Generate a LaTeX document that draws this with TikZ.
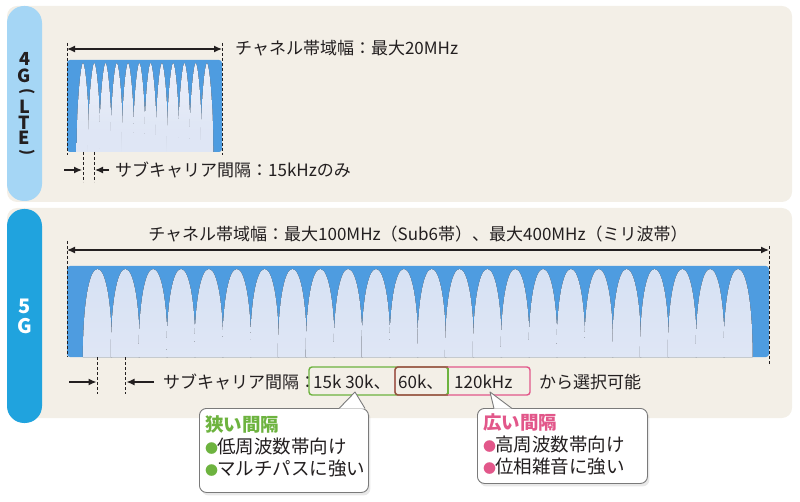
\documentclass[tikz,border=0pt]{standalone}
\usepackage{fontspec}
\setmainfont{Noto Sans CJK JP}
\usetikzlibrary{arrows.meta,shadows,calc,fadings}
\definecolor{beige}{HTML}{F3EFE7}
\definecolor{tabfour}{HTML}{A5D6F5}
\definecolor{tabfive}{HTML}{20A3DE}
\definecolor{specdark}{HTML}{4E9CE0}
\definecolor{speclight}{HTML}{DFE6F5}
\definecolor{peaktip}{HTML}{E9EEF9}
\definecolor{grn}{HTML}{6DB33F}
\definecolor{pnk}{HTML}{E2578A}
\definecolor{brn}{HTML}{8C5B3B}
\definecolor{txt}{HTML}{231F20}
\definecolor{cbord}{HTML}{7A7A7A}
\begin{document}
\begin{tikzpicture}[x=1pt,y=-1pt,
  lbl/.style={font=\fontsize{17}{20}\selectfont, text=txt, inner sep=0pt},
  tabtxt/.style={font=\fontsize{20}{20}\selectfont\bfseries, inner sep=0pt, text height=14pt, text depth=0pt},
  tabsmall/.style={font=\fontsize{18}{18}\selectfont\bfseries, inner sep=0pt, text height=12.5pt, text depth=0pt},
  tabparen/.style={font=\fontsize{15}{15}\selectfont\bfseries, inner sep=0pt, rotate=-90, text height=5pt, text depth=0pt},
  dimline/.style={line width=1.3pt, txt, {Latex[length=8pt,width=7pt]}-{Latex[length=8pt,width=7pt]}},
  onearrow/.style={line width=1.3pt, txt, -{Latex[length=8pt,width=7pt]}},
  guide/.style={densely dashed, line width=0.7pt, txt},
  panel/.style={fill=beige, rounded corners=10pt},
  callout/.style={draw=cbord, line width=0.9pt, fill=white, rounded corners=7pt, inner sep=0pt},
  ctext/.style={font=\fontsize{18.5}{22}\selectfont, text=txt, inner sep=0pt, anchor=north west, align=left},
  selbox/.style={line width=1.4pt, rounded corners=3pt}
]
\useasboundingbox (0,0) rectangle (800,502);
% panels
\fill[panel] (7,6) rectangle (792,202);
\fill[panel] (7,208) rectangle (792,418);
\fill[tabfour, rounded corners=17pt] (7,6) rectangle (42,201);
\fill[tabfive, rounded corners=17pt] (7,209) rectangle (42,423);
% 4G (LTE) vertical label
\node[tabsmall, text=txt] (t4a) at (24.5,59.5) {4};
\node[tabsmall, text=txt] (t4b) at (24.5,76.5) {G};
\node[tabparen, text=txt] (t4c) at (24.5,92) {(};
\node[tabsmall, text=txt] (t4d) at (24.5,107.5) {L};
\node[tabsmall, text=txt] (t4e) at (24.5,123) {T};
\node[tabsmall, text=txt] (t4f) at (24.5,138.5) {E};
\node[tabparen, text=txt] (t4g) at (24.5,153) {)};
% 5G label
\node[tabtxt, text=white] (t5a) at (24.5,307) {5};
\node[tabtxt, text=white] (t5b) at (24.5,327) {G};

% ---------- 4G spectrum ----------
\fill[specdark, rounded corners=3pt] (67,60) rectangle (222,152);
\foreach \i in {0,...,11}{
  \pgfmathsetmacro\c{83+11.27*\i}
  \fill[top color=peaktip, bottom color=speclight]
    (\c-6.3,152) .. controls (\c-6.3,100) and (\c-2,63) .. (\c,63)
    .. controls (\c+2,63) and (\c+6.3,100) .. (\c+6.3,152) -- cycle;
}
\fill[speclight, path fading=north] (77,105) rectangle (213,152);
\coordinate (a4l) at (67,49);
\coordinate (a4r) at (222,49);
\draw[guide] (67,43) -- (67,155);
\draw[guide] (222,43) -- (222,155);
\draw[dimline] (a4l) -- (a4r);
\node[lbl, anchor=west] (bw4) at (235,48) {チャネル帯域幅：最大20MHz};
\draw[guide] (83,152) -- (83,182);
\draw[guide] (94,152) -- (94,182);
\coordinate (s4a) at (64,170);
\coordinate (s4b) at (82,170);
\coordinate (s4c) at (109,170);
\coordinate (s4d) at (95,170);
\draw[onearrow] (s4a) -- (s4b);
\draw[onearrow] (s4c) -- (s4d);
\node[lbl, anchor=west] (sc4) at (115,170) {サブキャリア間隔：15kHzのみ};

% ---------- 5G spectrum ----------
\fill[specdark, rounded corners=3pt] (67,266) rectangle (769,357);
\foreach \i in {0,...,23}{
  \pgfmathsetmacro\c{97.5+27.85*\i}
  \fill[top color=speclight!94!specdark, bottom color=speclight]
    (\c-14.6,357) .. controls (\c-14.6,305) and (\c-8.5,269) .. (\c,269)
    .. controls (\c+8.5,269) and (\c+14.6,305) .. (\c+14.6,357) -- cycle;
}
\coordinate (a5l) at (67,250);
\coordinate (a5r) at (769,250);
\draw[guide] (67,241) -- (67,357);
\draw[guide] (769,246) -- (769,364);
\draw[dimline] (a5l) -- (a5r);
\node[lbl] (bw5) at (418,234) {チャネル帯域幅：最大100MHz（Sub6帯）、最大400MHz（ミリ波帯）};
\draw[guide] (97.5,357) -- (97.5,394);
\draw[guide] (125.5,357) -- (125.5,394);
\coordinate (s5a) at (69,382);
\coordinate (s5b) at (96.5,382);
\coordinate (s5c) at (154,382);
\coordinate (s5d) at (126.5,382);
\draw[onearrow] (s5a) -- (s5b);
\draw[onearrow] (s5c) -- (s5d);
\node[lbl, anchor=west] (sc5) at (163,382) {サブキャリア間隔：};
\node[lbl, anchor=west] (v1) at (313,382) {15k 30k、};
\node[lbl, anchor=west] (v2) at (398,382) {60k、};
\node[lbl, anchor=west] (v3) at (454,382) {120kHz};
\node[lbl, anchor=west] (v4) at (539,382) {から選択可能};
\draw[selbox, grn] (309,367) rectangle (448,395);
\draw[selbox, pnk] (395,367) rectangle (530,395);
\draw[selbox, brn] (448,367) -- (395,367) -- (395,395) -- (448,395);
\draw[line width=1.4pt, grn] (448,368) -- (448,394);

% ---------- callouts ----------
\node[callout, drop shadow={opacity=0.18, shadow xshift=2pt, shadow yshift=-3pt},
      minimum width=169pt, minimum height=84pt, anchor=north west] (cbL) at (199,408) {};
\coordinate (tLa) at (339,408.5);
\coordinate (tLt) at (355,392);
\coordinate (tLb) at (365,408.5);
\fill[white] (tLa) -- (tLt) -- (tLb) -- cycle;
\draw[cbord, line width=0.9pt, line join=round] (tLa) -- (tLt) -- (tLb);
\node[ctext] (txL) at (205,415)
  {{\color{grn}\bfseries 狭い間隔}\\{\color{grn}\fontsize{13}{13}\selectfont ●}\kern-1pt 低周波数帯向け\\{\color{grn}\fontsize{13}{13}\selectfont ●}\kern-1pt マルチパスに強い};

\node[callout, drop shadow={opacity=0.18, shadow xshift=2pt, shadow yshift=-3pt},
      minimum width=170pt, minimum height=75pt, anchor=north west] (cbR) at (477,408) {};
\coordinate (tRa) at (494,408.5);
\coordinate (tRt) at (490,392);
\coordinate (tRb) at (512,408.5);
\fill[white] (tRa) -- (tRt) -- (tRb) -- cycle;
\draw[cbord, line width=0.9pt, line join=round] (tRa) -- (tRt) -- (tRb);
\node[ctext] (txR) at (483,413)
  {{\color{pnk}\bfseries 広い間隔}\\{\color{pnk}\fontsize{13}{13}\selectfont ●}\kern-1pt 高周波数帯向け\\{\color{pnk}\fontsize{13}{13}\selectfont ●}\kern-1pt 位相雑音に強い};
\end{tikzpicture}
\end{document}
